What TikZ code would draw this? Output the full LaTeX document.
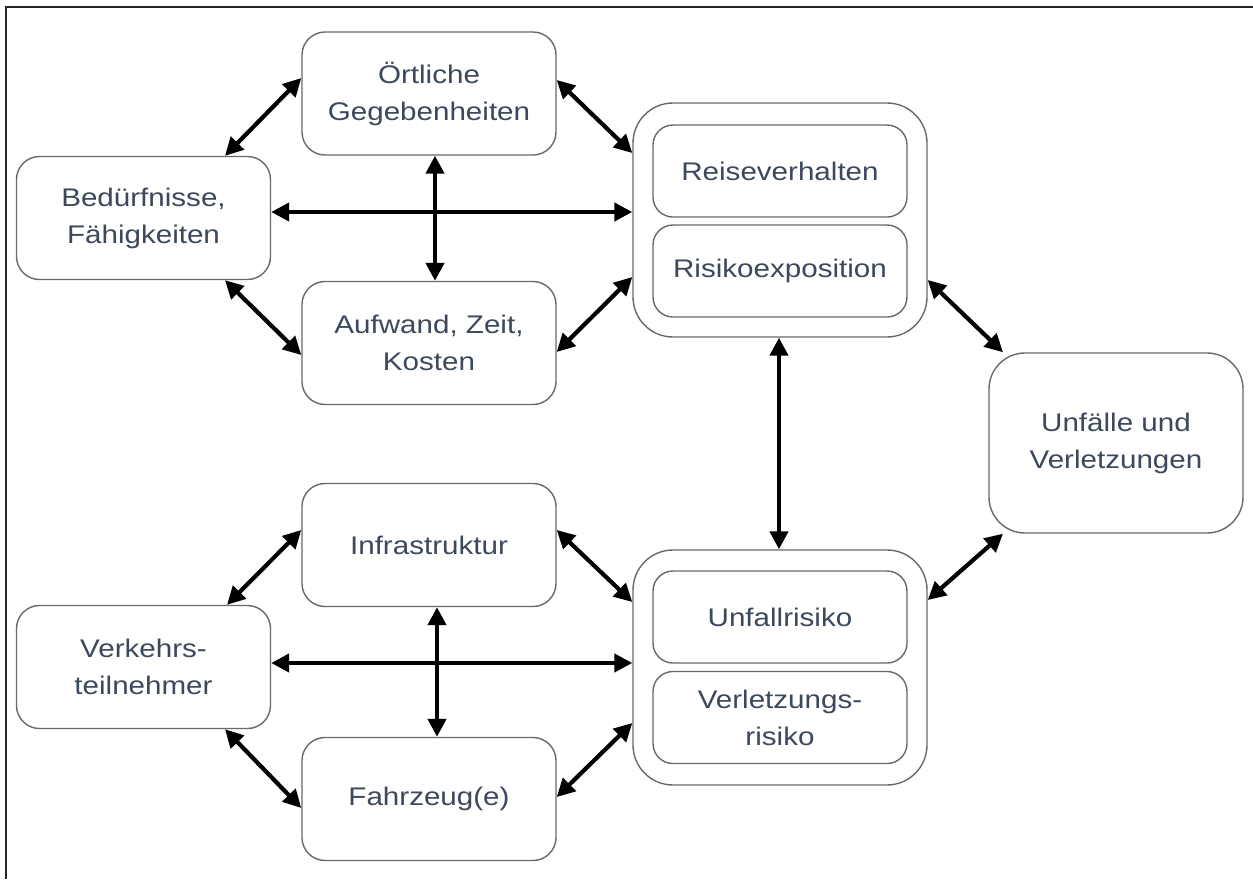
\documentclass[tikz,border=0pt]{standalone}
\usepackage{fontspec}
\setmainfont{Liberation Sans}[FakeStretch=1.16]
\usetikzlibrary{arrows.meta,calc}
\definecolor{boxline}{RGB}{105,105,105}
\definecolor{boxtext}{RGB}{60,72,92}
\begin{document}
\begin{tikzpicture}[x=1pt,y=-1pt,
  box/.style={draw=boxline, line width=1.4pt, rounded corners=23pt, fill=white,
    text=boxtext, align=center, inner sep=0pt,
    minimum width=254pt, minimum height=123pt,
    font=\fontsize{25.5}{37}\selectfont},
  group/.style={draw=boxline, line width=1.4pt, rounded corners=40pt, fill=white,
    minimum width=294pt, minimum height=234pt, inner sep=0pt},
  inner/.style={box, rounded corners=20pt, minimum height=92pt},
  arr/.style={line width=4.2pt, {Triangle[length=18pt,width=18pt]}-{Triangle[length=18pt,width=18pt]}}
]
\useasboundingbox (0,0) rectangle (1253,879);
% frame
\draw[line width=2pt, black!85] (6,879) -- (6,7) -- (1253,7);

% upper cluster
\node[box] (ort) at (429,93.5) {Örtliche\\Gegebenheiten};
\node[box] (bed) at (143.5,218) {Bedürfnisse,\\Fähigkeiten};
\node[box] (auf) at (429,343) {Aufwand, Zeit,\\Kosten};
\node[group] (top) at (780,220) {};
\node[inner] (reise) at (780,171) {Reiseverhalten};
\node[inner] (expo) at (780,271) {Risikoexposition};

% outcome
\node[box, rounded corners=36pt, minimum height=180pt] (unf) at (1116,443) {Unfälle und\\Verletzungen};

% lower cluster
\node[box] (inf) at (429,545) {Infrastruktur};
\node[box] (verk) at (143.5,667) {Verkehrs-\\teilnehmer};
\node[box] (fahr) at (429,799) {Fahrzeug(e)};
\node[group, minimum height=235pt] (bot) at (780,667.5) {};
\node[inner] (unfr) at (780,617) {Unfallrisiko};
\node[inner] (verl) at (780,717.5) {Verletzungs-\\risiko};

% upper connectors
\draw[arr] (bed.north -| 225,0) -- (ort.west |- 0,78);
\draw[arr] (bed.south -| 225,0) -- (auf.west |- 0,355);
\draw[arr] (bed.east |- 0,212) -- (top.west |- 0,212);
\draw[arr] (ort.south -| 435,0) -- (auf.north -| 435,0);
\draw[arr] (ort.east |- 0,80) -- (top.west |- 0,153);
\draw[arr] (auf.east |- 0,352) -- (top.west |- 0,277);

% links to the outcome
\draw[arr] (top.east |- 0,280) -- (unf.north -| 1003,0);
\draw[arr] (unf.south -| 1003,0) -- (bot.east |- 0,600);
\draw[arr] (top.south -| 779,0) -- (bot.north -| 779,0);

% lower connectors
\draw[arr] (verk.north -| 227,0) -- (inf.west |- 0,530);
\draw[arr] (verk.south -| 225,0) -- (fahr.west |- 0,808);
\draw[arr] (verk.east |- 0,663) -- (bot.west |- 0,663);
\draw[arr] (inf.south -| 437,0) -- (fahr.north -| 437,0);
\draw[arr] (inf.east |- 0,530) -- (bot.west |- 0,602);
\draw[arr] (fahr.east |- 0,797) -- (bot.west |- 0,723);
\end{tikzpicture}
\end{document}
